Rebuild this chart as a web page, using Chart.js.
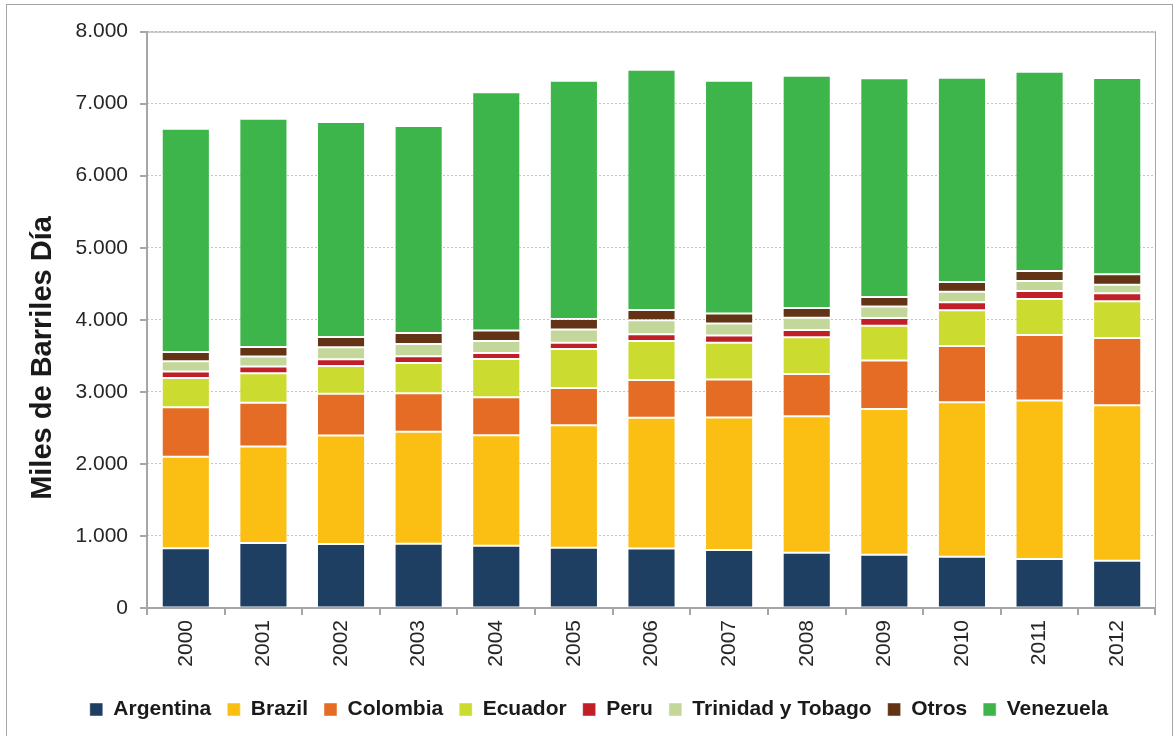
<!DOCTYPE html>
<html><head><meta charset="utf-8">
<script src="https://cdn.jsdelivr.net/npm/chart.js@4.4.1/dist/chart.umd.min.js"></script>
<style>
html,body{margin:0;padding:0;background:#fff;}
#wrap{position:relative;width:1175px;height:736px;overflow:hidden;}
#frame{position:absolute;left:6px;top:4px;width:1167px;height:760px;border:1.5px solid #a6a6a6;box-sizing:border-box;}
canvas{position:absolute;left:0;top:0;}
</style></head><body>
<div id="wrap"><div id="frame"></div><canvas id="c" width="1175" height="736"></canvas></div>
<script>
const years = ['2000','2001','2002','2003','2004','2005','2006','2007','2008','2009','2010','2011','2012'];
const argentina = [828, 901, 887, 892, 864, 836, 827, 804, 767, 739, 711, 679, 656];
const brazil    = [1270, 1341, 1507, 1553, 1535, 1701, 1812, 1840, 1895, 2024, 2145, 2200, 2159];
const colombia  = [689, 605, 578, 536, 526, 518, 527, 527, 587, 671, 781, 911, 933];
const ecuador   = [406, 411, 388, 421, 532, 540, 540, 512, 508, 485, 495, 499, 509];
const peru      = [88, 93, 92, 92, 83, 88, 93, 98, 102, 106, 111, 111, 110];
const trinidad  = [144, 138, 167, 171, 166, 181, 194, 166, 171, 158, 148, 138, 121];
const otros     = [129, 134, 143, 153, 144, 148, 143, 139, 134, 133, 133, 139, 143];
const venezuela = [3099, 3169, 2984, 2873, 3307, 3307, 3336, 3233, 3224, 3035, 2836, 2767, 2725];
const yTicks = [0, 1000, 2000, 3000, 4000, 5000, 6000, 7000, 8000];
const yTitle = 'Miles de Barriles Día';

const series = [
  ['Argentina', argentina, '#1e3f62'],
  ['Brazil', brazil, '#fbbf13'],
  ['Colombia', colombia, '#e56c25'],
  ['Ecuador', ecuador, '#cbdb2f'],
  ['Peru', peru, '#c01f28'],
  ['Trinidad y Tobago', trinidad, '#c4d79b'],
  ['Otros', otros, '#623314'],
  ['Venezuela', venezuela, '#3db54a']
];

function fmt(v){ return String(v).replace(/\B(?=(\d{3})+(?!\d))/g, '.'); }

const framePlugin = {
  id: 'framePlugin',
  afterDatasetsDraw(chart){
    const {ctx, chartArea:a, scales} = chart;
    ctx.save();
    ctx.strokeStyle = '#a6a6a6';
    ctx.lineWidth = 1;
    ctx.beginPath();
    ctx.moveTo(a.left, a.top + 0.5); ctx.lineTo(a.right, a.top + 0.5);
    ctx.moveTo(a.right - 0.5, a.top); ctx.lineTo(a.right - 0.5, a.bottom);
    ctx.stroke();
    ctx.lineWidth = 2;
    ctx.beginPath();
    ctx.moveTo(a.left, a.top); ctx.lineTo(a.left, a.bottom + 7);
    ctx.moveTo(a.left - 7, a.bottom); ctx.lineTo(a.right, a.bottom);
    yTicks.forEach(v => {
      const y = Math.round(scales.y.getPixelForValue(v));
      ctx.moveTo(a.left - 7, y); ctx.lineTo(a.left, y);
    });
    const n = years.length;
    for (let i = 1; i <= n; i++) {
      const x = i < n ? Math.round((scales.x.getPixelForValue(i - 1) + scales.x.getPixelForValue(i)) / 2) : a.right - 1;
      ctx.moveTo(x, a.bottom); ctx.lineTo(x, a.bottom + 7);
    }
    ctx.stroke();
    ctx.restore();
  },
  afterDraw(chart){
    const ctx = chart.ctx;
    ctx.save();
    ctx.translate(43, 358);
    ctx.rotate(-Math.PI / 2);
    ctx.font = 'bold 29px "Liberation Sans", Arial, sans-serif';
    ctx.fillStyle = '#1a1a1a';
    ctx.textAlign = 'center';
    ctx.textBaseline = 'middle';
    ctx.fillText(yTitle, 0, 0);
    ctx.restore();
  }
};

new Chart(document.getElementById('c'), {
  type: 'bar',
  data: {
    labels: years,
    datasets: series.map(([label, data, color]) => ({
      label, data,
      backgroundColor: color,
      borderColor: 'rgba(255,255,255,0.45)',
      borderWidth: 1,
      borderSkipped: false,
      categoryPercentage: 1,
      barPercentage: 0.62
    }))
  },
  options: {
    responsive: false,
    animation: false,
    devicePixelRatio: 1,
    layout: { padding: { left: 42, top: 31, right: 19, bottom: 6 } },
    plugins: {
      legend: {
        position: 'bottom',
        labels: {
          boxWidth: 13, boxHeight: 13, padding: 16,
          color: '#1a1a1a',
          font: { family: '"Liberation Sans", Arial, sans-serif', size: 21, weight: 'bold' }
        }
      },
      tooltip: { enabled: false }
    },
    scales: {
      x: {
        stacked: true,
        grid: { display: false, drawTicks: false },
        border: { display: false },
        ticks: {
          maxRotation: 90, minRotation: 90, padding: 12,
          color: '#262626',
          font: { family: '"Liberation Sans", Arial, sans-serif', size: 21 }
        },
        afterFit(s){ s.height = 75; }
      },
      y: {
        stacked: true,
        min: 0, max: 8000,
        grid: { color: '#c4c4c4', drawTicks: false, lineWidth: 1 },
        border: { display: false, dash: [2, 2] },
        ticks: {
          stepSize: 1000, padding: 19,
          color: '#262626',
          font: { family: '"Liberation Sans", Arial, sans-serif', size: 21 },
          callback: v => fmt(v)
        },
        afterFit(s){ s.width = 105; }
      }
    }
  },
  plugins: [framePlugin]
});
</script>
</body></html>
